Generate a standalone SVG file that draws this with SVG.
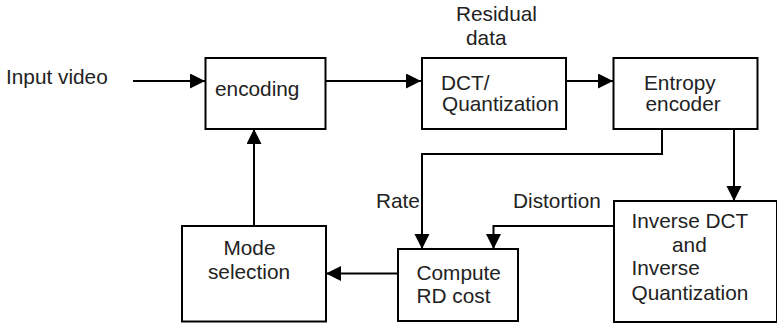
<svg xmlns="http://www.w3.org/2000/svg" width="777" height="323" viewBox="0 0 777 323">
<style>
.box{fill:#fff;stroke:#000;stroke-width:2}
.ln{fill:none;stroke:#000;stroke-width:2}
text{font-family:"Liberation Sans",Arial,sans-serif;font-size:20.8px;fill:#222}
</style>
<defs>
<marker id="ah" markerUnits="userSpaceOnUse" markerWidth="16" markerHeight="16" refX="15" refY="7.5" orient="auto">
<path d="M0,0 L15,7.5 L0,15 z" fill="#000"/>
</marker>
</defs>
<rect width="777" height="323" fill="#fff"/>
<text x="6" y="84">Input video</text>
<text x="456" y="21">Residual</text>
<text x="466" y="44.5">data</text>
<g id="connectors">
<line class="ln" x1="133" y1="81" x2="205" y2="81" marker-end="url(#ah)"/>
<line class="ln" x1="326" y1="81" x2="421" y2="81" marker-end="url(#ah)"/>
<line class="ln" x1="566" y1="81" x2="613" y2="81" marker-end="url(#ah)"/>
<polyline class="ln" points="662,129 662,154 422,154 422,249" marker-end="url(#ah)"/>
<line class="ln" x1="734" y1="129" x2="734" y2="201" marker-end="url(#ah)"/>
<polyline class="ln" points="614,226 493.5,226 493.5,249" marker-end="url(#ah)"/>
<line class="ln" x1="398" y1="273.5" x2="326" y2="273.5" marker-end="url(#ah)"/>
<line class="ln" x1="254" y1="226" x2="254" y2="129" marker-end="url(#ah)"/>
<text x="376" y="207.5">Rate</text>
<text x="513" y="207.5">Distortion</text>
</g>
<g id="encoding">
<rect class="box" x="205.5" y="58" width="120" height="71"/>
<text x="215" y="95.5">encoding</text>
</g>
<g id="dct">
<rect class="box" x="422" y="58" width="144" height="71"/>
<text x="441" y="89.5">DCT/</text>
<text x="442" y="111">Quantization</text>
</g>
<g id="entropy">
<rect class="box" x="613.5" y="58" width="144" height="71"/>
<text x="644" y="89.5">Entropy</text>
<text x="645.5" y="111">encoder</text>
</g>
<g id="inverse">
<rect class="box" x="614" y="201" width="163" height="121"/>
<text x="631.5" y="227.5">Inverse DCT</text>
<text x="672" y="251.5">and</text>
<text x="631.5" y="275">Inverse</text>
<text x="631.5" y="300">Quantization</text>
</g>
<g id="compute">
<rect class="box" x="398" y="249" width="120" height="72"/>
<text x="416.5" y="279.5">Compute</text>
<text x="416.5" y="302.5">RD cost</text>
</g>
<g id="mode">
<rect class="box" x="182" y="226" width="144" height="95.5"/>
<text x="249.5" y="254.5" text-anchor="middle">Mode</text>
<text x="249" y="278.5" text-anchor="middle">selection</text>
</g>
</svg>
